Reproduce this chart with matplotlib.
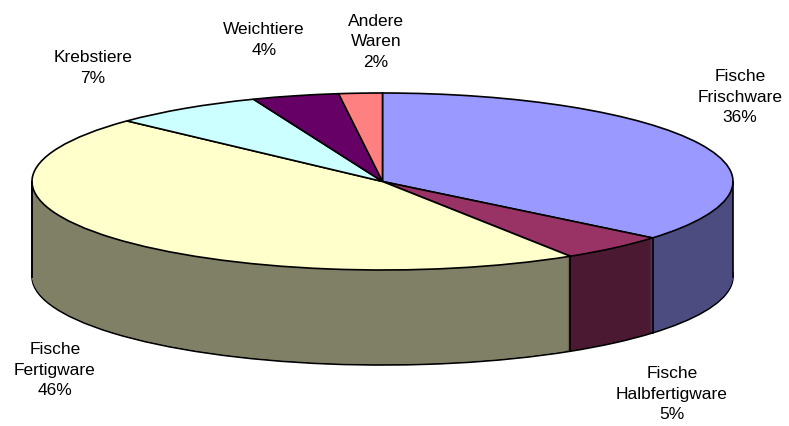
import numpy as np
import matplotlib.pyplot as plt

labels = ['Fische\nFrischware', 'Fische\nHalbfertigware', 'Fische\nFertigware',
          'Krebstiere', 'Weichtiere', 'Andere\nWaren']
shares = [36, 5, 46, 7, 4, 2]
top_colors = ['#9999FF', '#993366', '#FFFFCC', '#CCFFFF', '#660066', '#FF8080']
side_colors = ['#4C4C80', '#4C1933', '#808066', '#668080', '#330033', '#804040']

# label block centres in pixels
label_pos = [(740, 97), (672, 394), (55, 370), (93, 68), (264, 40), (376, 42)]

W, H = 789, 426
cx, cy = 382.5, 181.5     # centre of top face (pixels)
rx, ry = 350.5, 88.5      # ellipse radii (pixels)
depth = 95
k = rx / ry               # y squash factor

fig = plt.figure(figsize=(W / 100, H / 100), dpi=100)
ax = fig.add_axes([0, 0, 1, 1])


def py(p):
    # pixel row -> data y
    return -(p - cy) * k


# side of the cake: stack of darker pies
for d in range(depth, 0, -1):
    edge = 'black' if d == depth else 'none'
    ax.pie(shares, colors=side_colors, startangle=90, counterclock=False,
           radius=rx, center=(cx, py(cy + d)), frame=True,
           wedgeprops=dict(edgecolor=edge, linewidth=1.2))

# top face
ax.pie(shares, colors=top_colors, startangle=90, counterclock=False,
       radius=rx, center=(cx, 0), frame=True,
       wedgeprops=dict(edgecolor='black', linewidth=1.2))

# vertical edges on the visible front side
bounds = 90 - 360 * np.cumsum([0] + shares) / sum(shares)
for ang in list(bounds) + [0, 180, -180]:
    t = np.radians(ang)
    if np.sin(t) <= 1e-9:
        x = cx + rx * np.cos(t)
        y0 = rx * np.sin(t)
        ax.plot([x, x], [y0, y0 + py(cy + depth)], color='black', lw=1.2)

ax.set_aspect('auto')
ax.set_xlim(0, W)
ax.set_ylim(py(H), py(0))
ax.axis('off')

for lab, s, (x, y) in zip(labels, shares, label_pos):
    fig.text(x / W, 1 - y / H, f'{lab}\n{s}%', ha='center', va='center',
             fontsize=12.5, family='Liberation Sans', linespacing=1.45)

fig.savefig('out.png', dpi=100)
